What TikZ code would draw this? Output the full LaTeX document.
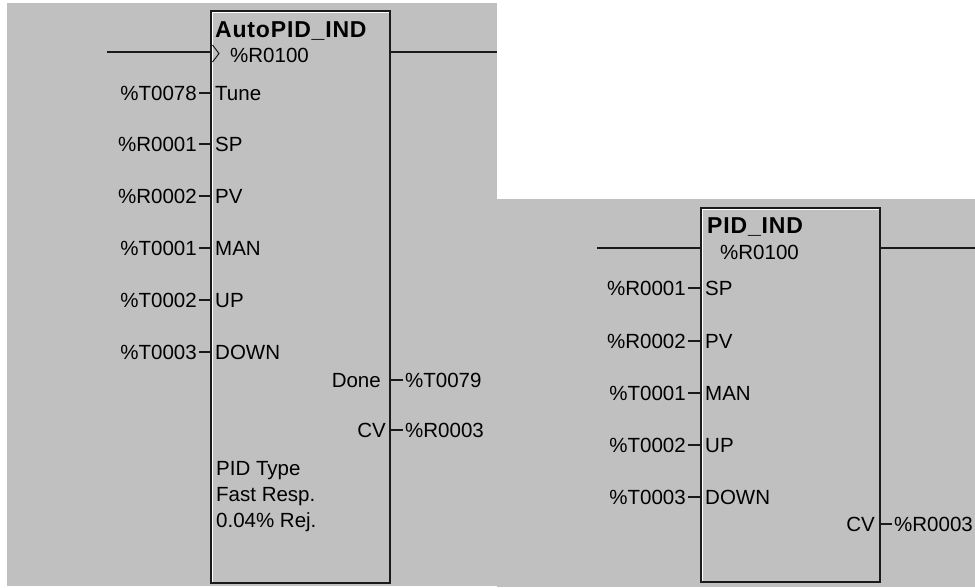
\documentclass[tikz,border=0pt]{standalone}
\usepackage{fontspec}
\setmainfont{Liberation Sans}
\newfontfamily\titlefont[LetterSpace=3.6]{Liberation Sans}
\usepackage{tikz}
\usetikzlibrary{positioning,calc}
\definecolor{cpanel}{HTML}{C0C0C0}
\definecolor{cedge}{HTML}{1A1A1A}
\newcommand{\lfont}{\fontsize{20.5}{26}\selectfont}
\tikzset{
  fblock/.style={rectangle, draw=cedge, line width=1.8pt, fill=cpanel, inner sep=0pt},
  hilite/.style={draw=white, line width=1pt},
  wire/.style={draw=cedge, line width=1.5pt},
  thinw/.style={draw=cedge, line width=1pt},
  pinl/.style={font=\lfont, inner sep=2pt, text height=14pt, text depth=0pt, anchor=base west},
  varl/.style={pinl, anchor=base east},
  title/.style={font=\titlefont\fontsize{23}{26}\selectfont\bfseries, inner sep=0pt, anchor=base west},
  note/.style={font=\lfont, inner sep=0pt, anchor=base west},
}
\begin{document}
\begin{tikzpicture}[x=1pt,y=-1pt]
\useasboundingbox (0,0) rectangle (975,587);
\fill[white] (0,0) rectangle (975,587);
\fill[cpanel] (7,3) rectangle (497,586);
\fill[cpanel] (497,199) rectangle (975,587);

% AutoPID block
\node[fblock, minimum width=179pt, minimum height=572pt] (auto) at (300.5,297) {};
\draw[hilite] ($(auto.south west)+(2,-1.5)$) -- ($(auto.north west)+(2,2)$) -- ($(auto.north east)+(-1.5,2)$);
\node[title] (autoName) at (215,37) {AutoPID\_IND};
\node[pinl] (autoRef) at (228,62) {\%R0100};
\draw[thinw] (212.5,45) -- (219,53.5) -- (212.5,62);
\coordinate (autoIn) at (107,52);
\coordinate (autoOut) at (497,52);
\draw[wire] (autoIn) -- (autoIn -| auto.west);
\draw[wire] (auto.east |- autoOut) -- (autoOut);
\foreach \y/\p/\v in {93/Tune/\%T0078, 144/SP/\%R0001, 196/PV/\%R0002, 248/MAN/\%T0001, 300/UP/\%T0002, 352/DOWN/\%T0003} {
  \node[pinl] (a\p) at (213,{\y+7}) {\p};
  \node[varl] (av\p) at (199,{\y+7}) {\v};
  \draw[wire] (av\p.east) -- (av\p.east -| auto.west);
}
\node[varl] (aDone) at (383,387) {Done};
\node[pinl] (avDone) at (403,387) {\%T0079};
\draw[wire] (auto.east |- avDone.west) -- (avDone.west);
\node[varl] (aCV) at (388,437) {CV};
\node[pinl] (avCV) at (403,437) {\%R0003};
\draw[wire] (auto.east |- avCV.west) -- (avCV.west);
\foreach \t [count=\i] in {PID Type, Fast Resp., 0.04\% Rej.}
  \node[note] (autoNote\i) at (216,{449+26*\i}) {\t};

% PID block
\node[fblock, minimum width=179pt, minimum height=374pt] (pid) at (790.5,395) {};
\draw[hilite] ($(pid.south west)+(2,-1.5)$) -- ($(pid.north west)+(2,2)$) -- ($(pid.north east)+(-1.5,2)$);
\node[title] (pidName) at (707,233) {PID\_IND};
\node[pinl] (pidRef) at (718,259) {\%R0100};
\coordinate (pidIn) at (597,248);
\coordinate (pidOut) at (975,248);
\draw[wire] (pidIn) -- (pidIn -| pid.west);
\draw[wire] (pid.east |- pidOut) -- (pidOut);
\foreach \y/\p/\v in {288/SP/\%R0001, 341/PV/\%R0002, 393/MAN/\%T0001, 445/UP/\%T0002, 497/DOWN/\%T0003} {
  \node[pinl] (p\p) at (703,{\y+7}) {\p};
  \node[varl] (pv\p) at (688,{\y+7}) {\v};
  \draw[wire] (pv\p.east) -- (pv\p.east -| pid.west);
}
\node[varl] (pCV) at (877,531) {CV};
\node[pinl] (pvCV) at (892,531) {\%R0003};
\draw[wire] (pid.east |- pvCV.west) -- (pvCV.west);
\end{tikzpicture}
\end{document}
